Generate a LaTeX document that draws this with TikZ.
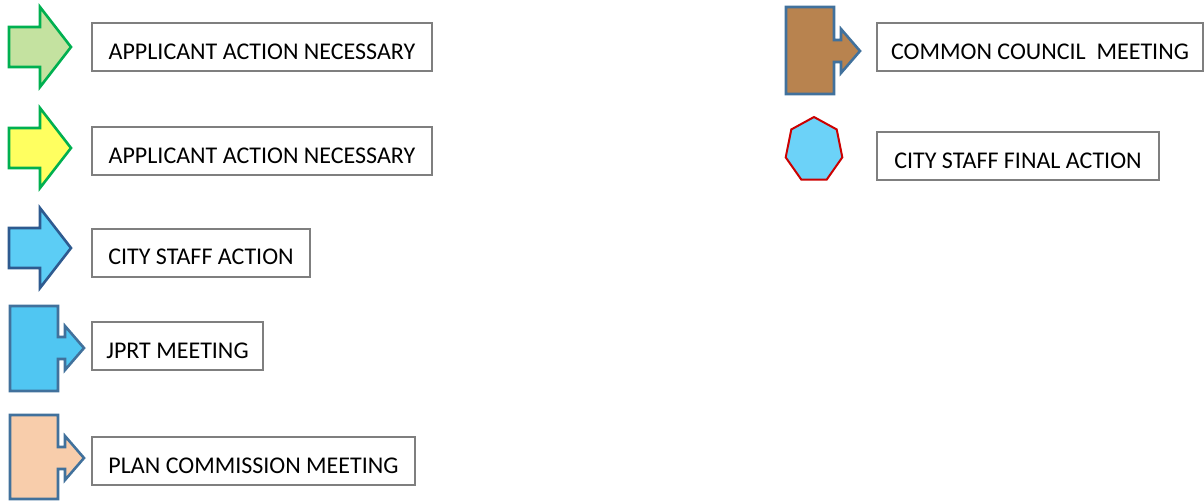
\documentclass[tikz,border=0pt]{standalone}
\usepackage{fontspec}
\setmainfont{Carlito}
\usetikzlibrary{shapes.geometric}
\definecolor{boxgray}{RGB}{127,127,127}
\definecolor{lgreen}{RGB}{196,226,160}
\definecolor{agreen}{RGB}{0,176,80}
\definecolor{ayellow}{RGB}{255,255,96}
\definecolor{ablue}{RGB}{92,205,245}
\definecolor{adarkblue}{RGB}{46,90,143}
\definecolor{jprtblue}{RGB}{80,198,242}
\definecolor{peach}{RGB}{248,205,171}
\definecolor{brown}{RGB}{184,131,79}
\definecolor{calloutblue}{RGB}{65,113,156}
\definecolor{finalblue}{RGB}{108,210,248}
\definecolor{finalred}{RGB}{204,0,0}

\begin{document}
\begin{tikzpicture}[
  x=0.5pt, y=-0.5pt,
  legendbox/.style={draw=boxgray, line width=1pt, font=\fontsize{12}{14}\selectfont, minimum height=24pt, inner sep=0pt, text height=12pt, text depth=0pt},
  arrowshape/.style={line width=1.3pt, line join=miter},
  callout/.style={line width=1.3pt, draw=calloutblue, line join=miter},
]
\useasboundingbox (0,0) rectangle (1204,500);

% block arrows
\foreach \c/\fc/\dc in {47/lgreen/agreen, 148/ayellow/agreen, 248/ablue/adarkblue}{
  \draw[arrowshape, fill=\fc, draw=\dc] (9,{\c-20}) -- (40,{\c-20}) -- (40,{\c-40}) -- (71,\c)
    -- (40,{\c+40}) -- (40,{\c+20}) -- (9,{\c+20}) -- cycle;
}

% meeting callouts
\foreach \x/\t/\b/\c/\fc in {10/306/391/348/jprtblue, 10/415/499/458/peach, 786/7/94/51/brown}{
  \draw[callout, fill=\fc] (\x,\t) -- ({\x+48},\t) -- ({\x+48},{\c-11}) -- ({\x+55},{\c-11})
    -- ({\x+55},{\c-22}) -- ({\x+74},\c) -- ({\x+55},{\c+22}) -- ({\x+55},{\c+11})
    -- ({\x+48},{\c+11}) -- ({\x+48},\b) -- (\x,\b) -- cycle;
}

% final action
\node[regular polygon, regular polygon sides=7, minimum size=33pt, inner sep=0pt,
  xscale=0.88, transform shape,
  fill=finalblue, draw=finalred, line width=1pt] (final) at (814,150) {};

% labels
\node[legendbox, minimum width=170pt] (appgreen) at (262,47) {APPLICANT ACTION NECESSARY};
\node[legendbox, minimum width=170pt] (appyellow) at (262,151) {APPLICANT ACTION NECESSARY};
\node[legendbox, minimum width=109pt] (staff) at (201,252.5) {CITY STAFF ACTION};
\node[legendbox, minimum width=85.5pt] (jprt) at (177.5,346) {JPRT MEETING};
\node[legendbox, minimum width=161.5pt] (plan) at (253.5,461) {PLAN COMMISSION MEETING};
\node[legendbox, minimum width=163pt] (council) at (1040,47) {COMMON COUNCIL\ \ MEETING};
\node[legendbox, minimum width=141pt] (staffinal) at (1018,156) {CITY STAFF FINAL ACTION};
\end{tikzpicture}
\end{document}
